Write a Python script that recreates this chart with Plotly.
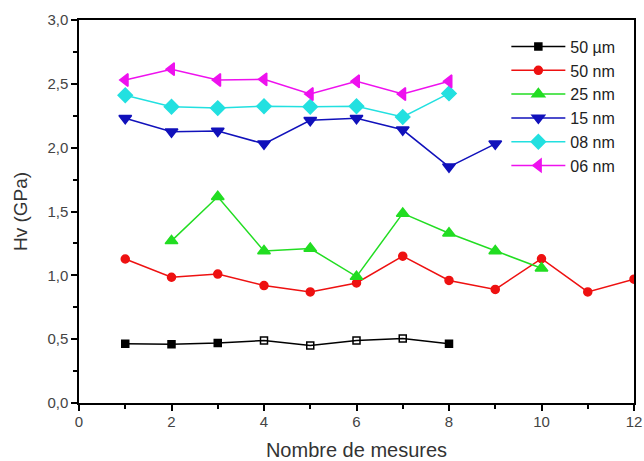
import plotly.graph_objects as go

x_50um = [1, 2, 3, 4, 5, 6, 7, 8]
y_50um = [0.465, 0.46, 0.47, 0.49, 0.45, 0.49, 0.505, 0.465]

x_50nm = [1, 2, 3, 4, 5, 6, 7, 8, 9, 10, 11, 12]
y_50nm = [1.128, 0.985, 1.01, 0.92, 0.87, 0.94, 1.15, 0.96, 0.89, 1.13, 0.87, 0.97]

x_25nm = [2, 3, 4, 5, 6, 7, 8, 9, 10]
y_25nm = [1.27, 1.615, 1.19, 1.21, 0.99, 1.485, 1.33, 1.19, 1.055]

x_15nm = [1, 2, 3, 4, 5, 6, 7, 8, 9]
y_15nm = [2.23, 2.125, 2.13, 2.03, 2.215, 2.23, 2.14, 1.85, 2.03]

x_08nm = [1, 2, 3, 4, 5, 6, 7, 8]
y_08nm = [2.41, 2.32, 2.31, 2.325, 2.32, 2.325, 2.24, 2.425]

x_06nm = [1, 2, 3, 4, 5, 6, 7, 8]
y_06nm = [2.53, 2.615, 2.53, 2.535, 2.42, 2.52, 2.42, 2.52]

x_ticks = [0, 2, 4, 6, 8, 10, 12]
y_ticks = [0, 0.5, 1.0, 1.5, 2.0, 2.5, 3.0]
y_ticklabels = ["0,0", "0,5", "1,0", "1,5", "2,0", "2,5", "3,0"]

sym_50um = ["square", "square", "square", "square-open", "square-open",
            "square-open", "square-open", "square"]

series = [
    ("50 µm", x_50um, y_50um, "#000000", sym_50um, 7),
    ("50 nm", x_50nm, y_50nm, "#ee1111", "circle", 8),
    ("25 nm", x_25nm, y_25nm, "#22dd22", "triangle-up", 11),
    ("15 nm", x_15nm, y_15nm, "#1111bb", "triangle-down", 11),
    ("08 nm", x_08nm, y_08nm, "#22e0e0", "diamond", 11),
    ("06 nm", x_06nm, y_06nm, "#ee11ee", "triangle-left", 11),
]

fig = go.Figure()
for name, xs, ys, col, sym, sz in series:
    fig.add_trace(go.Scatter(
        x=xs, y=ys, name=name, mode="lines+markers",
        line=dict(color=col, width=1.5),
        marker=dict(color=col, symbol=sym, size=sz, line=dict(color=col, width=1.5)),
        cliponaxis=True,
    ))

font = "Liberation Sans, Arial, sans-serif"
fig.update_layout(
    width=644, height=461,
    margin=dict(l=79, r=10, t=20, b=58),
    paper_bgcolor="white", plot_bgcolor="white",
    separators=", ",
    font=dict(family=font, size=15, color="#333333"),
    showlegend=True,
    legend=dict(
        x=0.77, y=0.975, xanchor="left", yanchor="top",
        bgcolor="rgba(0,0,0,0)", borderwidth=0,
        font=dict(family=font, size=16, color="#222222"),
        itemwidth=54, tracegroupgap=0,
    ),
    xaxis=dict(
        range=[0, 12], tickmode="array", tickvals=x_ticks,
        ticks="outside", ticklen=6, tickwidth=1.5, tickcolor="black",
        minor=dict(tickvals=[1, 3, 5, 7, 9, 11], ticks="outside", ticklen=4, tickwidth=1.5, tickcolor="black"),
        showline=True, linecolor="black", linewidth=1.5, mirror=True,
        showgrid=False, zeroline=False,
        title=dict(text="Nombre de mesures", font=dict(size=20, color="#333333"), standoff=15),
        tickfont=dict(size=15, color="#444444"),
        ticklabelstandoff=-2,
        automargin=False,
    ),
    yaxis=dict(
        range=[0, 3], tickmode="array", tickvals=y_ticks,
        ticktext=y_ticklabels,
        ticks="outside", ticklen=6, tickwidth=1.5, tickcolor="black",
        minor=dict(tickvals=[0.25, 0.75, 1.25, 1.75, 2.25, 2.75], ticks="outside", ticklen=4, tickwidth=1.5, tickcolor="black"),
        showline=True, linecolor="black", linewidth=1.5, mirror=True,
        showgrid=False, zeroline=False,
        title=dict(text="Hv (GPa)", font=dict(size=19, color="#333333"), standoff=15),
        tickfont=dict(size=15, color="#444444"),
        automargin=False,
    ),
)

fig.write_html("out.html", config={"displayModeBar": False},
               post_script="document.body.style.margin='0';document.body.style.overflow='hidden';")
